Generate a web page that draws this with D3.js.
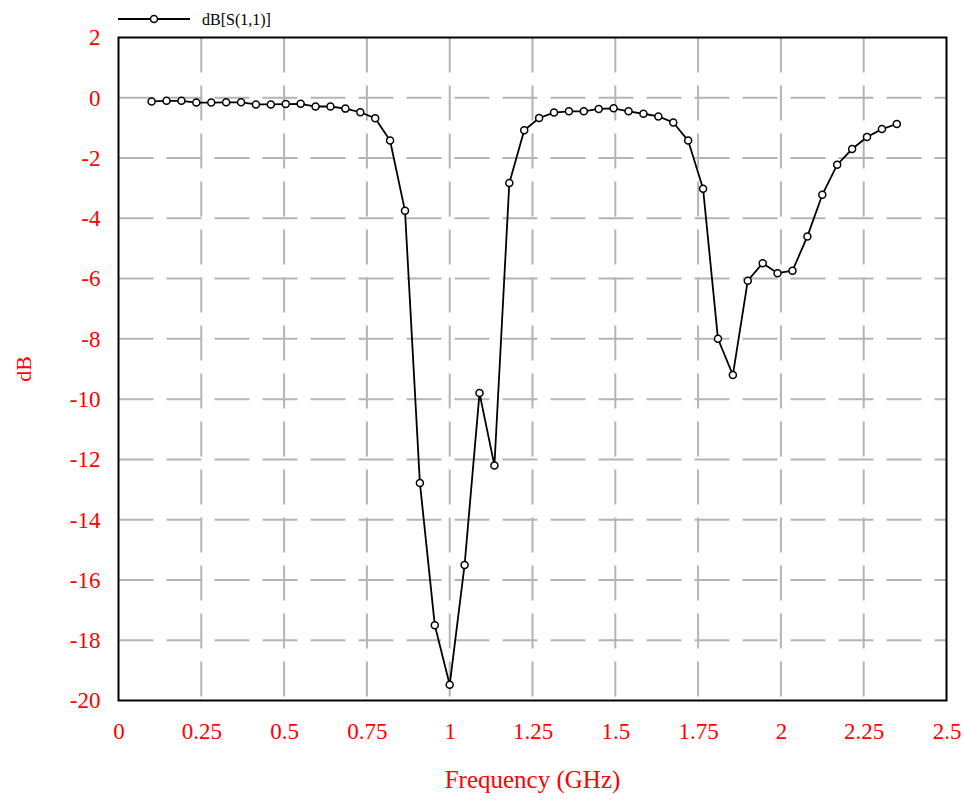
<!DOCTYPE html>
<html>
<head>
<meta charset="utf-8">
<script src="https://cdn.jsdelivr.net/npm/d3@7"></script>
<style>
  body { margin: 0; background: #fff; }
  svg { display: block; }
</style>
</head>
<body>
<script>
let w = 964;
let h = 803;

// frequency (GHz) and dB[S(1,1)]
let freqs = [0.1, 0.145, 0.19, 0.235, 0.28, 0.325, 0.37, 0.415, 0.46, 0.505,
  0.55, 0.595, 0.64, 0.685, 0.73, 0.775, 0.82, 0.865, 0.91, 0.955,
  1.0, 1.045, 1.09, 1.135, 1.18, 1.225, 1.27, 1.315, 1.36, 1.405,
  1.45, 1.495, 1.54, 1.585, 1.63, 1.675, 1.72, 1.765, 1.81, 1.855,
  1.9, 1.945, 1.99, 2.035, 2.08, 2.125, 2.17, 2.215, 2.26, 2.305, 2.35];
let s11 = [-0.12, -0.1, -0.1, -0.16, -0.16, -0.15, -0.15, -0.22, -0.22, -0.21,
  -0.2, -0.29, -0.29, -0.36, -0.48, -0.68, -1.42, -3.75, -12.78, -17.5,
  -19.48, -15.5, -9.8, -12.2, -2.83, -1.08, -0.67, -0.49, -0.45, -0.45,
  -0.37, -0.35, -0.45, -0.53, -0.62, -0.82, -1.42, -3.02, -8.0, -9.2,
  -6.07, -5.49, -5.82, -5.74, -4.6, -3.22, -2.22, -1.7, -1.3, -1.04, -0.87];

let xTicks = [0, 0.25, 0.5, 0.75, 1, 1.25, 1.5, 1.75, 2, 2.25, 2.5];
let yTicks = [2, 0, -2, -4, -6, -8, -10, -12, -14, -16, -18, -20];
let seriesName = "dB[S(1,1)]";

let data = freqs.map((f, i) => ({ f: f, v: s11[i] }));

let pLeft = 118.5, pRight = 946.5, pTop = 37.5, pBottom = 700.5;
const red = "#ff0000";
const gridColor = "#b4b4b4";
const labelFont = "'Liberation Serif', 'DejaVu Serif', serif";

let svg = d3.select("body").append("svg").attr("width", w).attr("height", h);

let xScale = d3.scaleLinear().domain([0, 2.5]).range([pLeft, pRight]);
let yScale = d3.scaleLinear().domain([-20, 2]).range([pBottom, pTop]);

// dashed grid
svg.append("g").selectAll("line.vgrid")
  .data(xTicks.slice(1, -1))
  .enter()
  .append("line")
  .attr("class", "vgrid")
  .attr("x1", (d) => xScale(d))
  .attr("x2", (d) => xScale(d))
  .attr("y1", pTop)
  .attr("y2", pBottom)
  .attr("stroke", gridColor)
  .attr("stroke-width", 2)
  .attr("stroke-dasharray", "35,13");

svg.append("g").selectAll("line.hgrid")
  .data(yTicks.slice(1, -1))
  .enter()
  .append("line")
  .attr("class", "hgrid")
  .attr("x1", pLeft)
  .attr("x2", pRight)
  .attr("y1", (d) => yScale(d))
  .attr("y2", (d) => yScale(d))
  .attr("stroke", gridColor)
  .attr("stroke-width", 2)
  .attr("stroke-dasharray", "35,13");

// plot frame
svg.append("rect")
  .attr("x", pLeft)
  .attr("y", pTop)
  .attr("width", pRight - pLeft)
  .attr("height", pBottom - pTop)
  .attr("fill", "none")
  .attr("stroke", "#000")
  .attr("stroke-width", 2);

const xAxis = d3.axisBottom(xScale)
  .tickValues(xTicks)
  .tickFormat((d) => String(d))
  .tickSize(0)
  .tickPadding(22);

const yAxis = d3.axisLeft(yScale)
  .tickValues(yTicks)
  .tickFormat((d) => String(d))
  .tickSize(0)
  .tickPadding(18);

svg.append("g")
  .attr("class", "x axis")
  .attr("transform", "translate(0," + pBottom + ")")
  .call(xAxis)
  .call((g) => g.select(".domain").remove());

svg.append("g")
  .attr("class", "y axis")
  .attr("transform", "translate(" + pLeft + ",0)")
  .call(yAxis)
  .call((g) => g.select(".domain").remove());

svg.selectAll(".axis text")
  .attr("fill", red)
  .style("font-family", labelFont)
  .style("font-size", "23px");

// line + markers
let line = d3.line()
  .x((d) => xScale(d.f))
  .y((d) => yScale(d.v));

svg.append("path")
  .datum(data)
  .attr("d", line)
  .attr("fill", "none")
  .attr("stroke", "#000")
  .attr("stroke-width", 1.8);

svg.selectAll("circle.pt")
  .data(data)
  .enter()
  .append("circle")
  .attr("class", "pt")
  .attr("cx", (d) => xScale(d.f))
  .attr("cy", (d) => yScale(d.v))
  .attr("r", 3.5)
  .attr("fill", "#fff")
  .attr("stroke", "#000")
  .attr("stroke-width", 1.5);

// axis titles
svg.append("text")
  .attr("x", (pLeft + pRight) / 2)
  .attr("y", 788)
  .attr("text-anchor", "middle")
  .attr("fill", red)
  .style("font-family", labelFont)
  .style("font-size", "25px")
  .text("Frequency (GHz)");

svg.append("text")
  .attr("transform", "translate(31," + ((pTop + pBottom) / 2) + ") rotate(-90)")
  .attr("text-anchor", "middle")
  .attr("fill", red)
  .style("font-family", labelFont)
  .style("font-size", "22px")
  .text("dB");

// legend
let legend = svg.append("g").attr("class", "legend");
legend.append("line")
  .attr("x1", 118)
  .attr("x2", 190)
  .attr("y1", 19)
  .attr("y2", 19)
  .attr("stroke", "#000")
  .attr("stroke-width", 1.8);
legend.append("circle")
  .attr("cx", 154)
  .attr("cy", 19)
  .attr("r", 3.5)
  .attr("fill", "#fff")
  .attr("stroke", "#000")
  .attr("stroke-width", 1.5);
legend.append("text")
  .attr("x", 202)
  .attr("y", 25)
  .attr("fill", "#000")
  .style("font-family", labelFont)
  .style("font-size", "16px")
  .text(seriesName);
</script>
</body>
</html>
